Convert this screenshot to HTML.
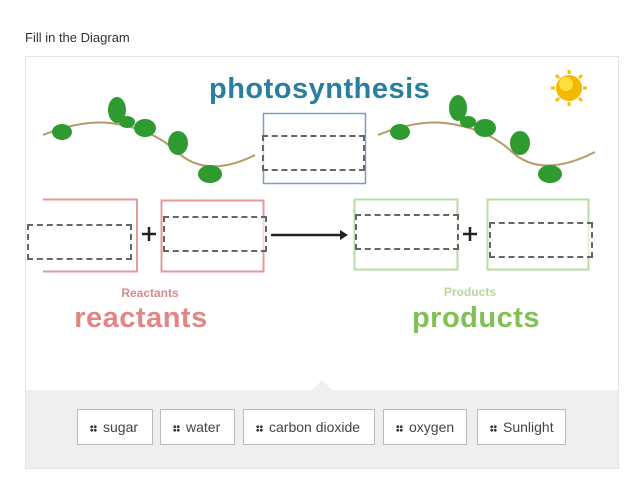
<!DOCTYPE html>
<html><head><style>
body{margin:0;width:635px;height:477px;background:#fff;font-family:"Liberation Sans",sans-serif;position:relative;overflow:hidden}
.a{position:absolute}
.d{position:absolute;border:2px dashed #666;box-sizing:border-box;background:rgba(255,255,255,.6)}
.b{position:absolute;top:409px;height:36px;border:1px solid #bbb;background:#fff;box-sizing:border-box;font-size:14px;color:#444;line-height:34px;padding-left:12px}
.b i{display:inline-block;width:7px;height:7px;margin-right:6px;vertical-align:-0px;background:radial-gradient(circle,#333 1.3px,transparent 1.6px) 0 0/3.5px 3.5px}
</style></head><body>
<div class="a" style="left:25px;top:30px;font-size:13px;color:#333">Fill in the Diagram</div>
<div class="a" style="left:25px;top:56px;width:592px;height:411px;border:1px solid #e4e4e4"></div>
<div class="a" style="left:26px;top:390px;width:592px;height:78px;background:#efefef"></div>
<div class="a" style="left:312px;top:380px;width:0;height:0;border-left:10px solid transparent;border-right:10px solid transparent;border-bottom:10px solid #efefef"></div>
<svg class="a" style="left:0;top:0" width="635" height="400">
<g fill="none" stroke="#b89a6a" stroke-width="2">
<path d="M43 135 Q80 120 110 123 Q150 128 175 150 Q205 180 255 155"/>
<path d="M378 135 Q415 120 445 123 Q485 128 510 150 Q540 180 595 152"/>
</g>
<g fill="#2f9a2f">
<ellipse cx="62" cy="132" rx="10" ry="8"/><ellipse cx="117" cy="110" rx="9" ry="13"/><ellipse cx="145" cy="128" rx="11" ry="9"/>
<ellipse cx="178" cy="143" rx="10" ry="12"/><ellipse cx="210" cy="174" rx="12" ry="9"/><ellipse cx="127" cy="122" rx="8" ry="6"/>
<ellipse cx="400" cy="132" rx="10" ry="8"/><ellipse cx="458" cy="108" rx="9" ry="13"/><ellipse cx="485" cy="128" rx="11" ry="9"/>
<ellipse cx="520" cy="143" rx="10" ry="12"/><ellipse cx="550" cy="174" rx="12" ry="9"/><ellipse cx="468" cy="122" rx="8" ry="6"/>
</g>
<circle cx="569" cy="88" r="13" fill="#f5b800"/><circle cx="566" cy="84" r="7" fill="#ffe040"/>
<g stroke="#f5c200" stroke-width="3"><path d="M569 70v4M569 102v4M551 88h4M583 88h4M556 75l3 3M582 75l-3 3M556 101l3-3M582 101l-3-3"/></g>
<rect x="263.5" y="113.5" width="102" height="70" fill="none" stroke="#7f9bbf" stroke-width="1.5"/>
<path d="M43 199.5H137V271.5H43" fill="none" stroke="#e49a9a" stroke-width="2"/>
<rect x="161.5" y="200.5" width="102" height="71" fill="none" stroke="#e49a9a" stroke-width="2"/>
<rect x="354.5" y="199.5" width="103" height="70" fill="none" stroke="#b9dca4" stroke-width="2"/>
<rect x="487.5" y="199.5" width="101" height="70" fill="none" stroke="#b9dca4" stroke-width="2"/>
<g stroke="#222" stroke-width="2.5"><path d="M142 234h14M149 227v14M463 234h14M470 227v14"/><path d="M271 235h72"/></g>
<path d="M348 235l-8-5v10z" fill="#222"/>
</svg>
<div class="a" style="left:209px;top:73px;font-size:29px;font-weight:bold;color:#2a7f9e;letter-spacing:0.5px">photosynthesis</div>
<div class="d" style="left:262px;top:135px;width:103px;height:36px"></div>
<div class="d" style="left:27px;top:224px;width:105px;height:36px"></div>
<div class="d" style="left:163px;top:216px;width:104px;height:36px"></div>
<div class="d" style="left:355px;top:214px;width:104px;height:36px"></div>
<div class="d" style="left:489px;top:222px;width:104px;height:36px"></div>
<div class="a" style="left:100px;top:286px;width:100px;text-align:center;font-size:12px;font-weight:bold;color:#d98a8a">Reactants</div>
<div class="a" style="left:41px;top:302px;width:200px;text-align:center;font-size:29px;font-weight:bold;color:#e28585;letter-spacing:0.5px">reactants</div>
<div class="a" style="left:420px;top:285px;width:100px;text-align:center;font-size:12px;font-weight:bold;color:#b5d8a0">Products</div>
<div class="a" style="left:376px;top:302px;width:200px;text-align:center;font-size:29px;font-weight:bold;color:#80c055;letter-spacing:0.5px">products</div>
<div class="b" style="left:77px;width:76px"><i></i>sugar</div>
<div class="b" style="left:160px;width:75px"><i></i>water</div>
<div class="b" style="left:243px;width:132px"><i></i>carbon dioxide</div>
<div class="b" style="left:383px;width:84px"><i></i>oxygen</div>
<div class="b" style="left:477px;width:89px"><i></i>Sunlight</div>
</body></html>
